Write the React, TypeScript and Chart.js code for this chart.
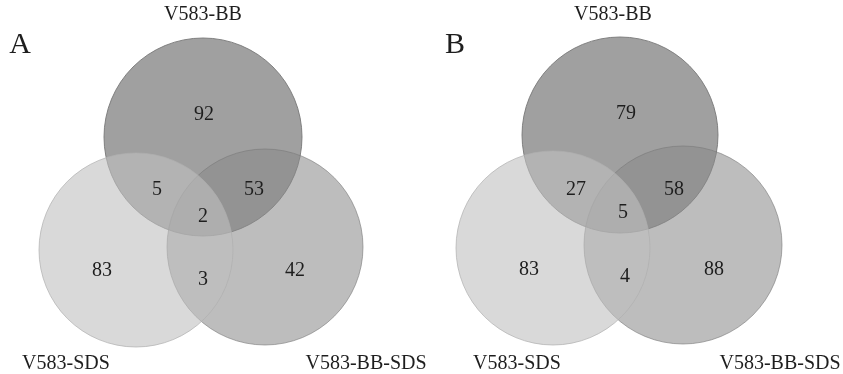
import React, { useEffect, useRef } from "react";
import { Chart, registerables } from "chart.js";

Chart.register(...registerables);

// ---- data ----
const panels = ["A", "B"];
const setNames = ["V583-BB", "V583-SDS", "V583-BB-SDS"];
// region order: BB only, SDS only, BB-SDS only, BB∩SDS, BB∩BB-SDS, SDS∩BB-SDS, all three
const countsA = [92, 83, 42, 5, 53, 3, 2];
const countsB = [79, 83, 88, 27, 58, 4, 5];

// ---- layout (pixel-like units of the hidden scales) ----
const circleLayout = [
  // per panel: [BB, SDS, BB-SDS] as {x, y, r}
  [
    { x: 203, y: 137, r: 99 },
    { x: 136, y: 250, r: 97 },
    { x: 265, y: 247, r: 98 },
  ],
  [
    { x: 620, y: 135, r: 98 },
    { x: 553, y: 248, r: 97 },
    { x: 683, y: 245, r: 99 },
  ],
];
const regionPos = [
  [
    [204, 115], [102, 271], [295, 271], [157, 190], [254, 190], [203, 280], [203, 217],
  ],
  [
    [626, 114], [529, 270], [714, 270], [576, 190], [674, 190], [625, 277], [623, 213],
  ],
];
const setLabelPos = [
  [[203, 15], [66, 364], [366, 364]],
  [[613, 15], [517, 364], [780, 364]],
];
const panelLetterPos = [[20, 45], [455, 45]];

const W = 843;
const H = 374;

export default function App() {
  const ref = useRef<HTMLCanvasElement | null>(null);

  useEffect(() => {
    document.body.style.margin = "0";
    const canvas = ref.current;
    if (!canvas) return;
    const counts = [countsA, countsB];

    const fills = [
      "rgba(160,160,160,1)",
      "rgba(191,191,191,0.6)",
      "rgba(137,137,137,0.56)",
    ];
    const borders = [
      "rgba(120,120,120,0.9)",
      "rgba(175,175,175,0.7)",
      "rgba(120,120,120,0.6)",
    ];
    const orders = [2, 0, 1]; // BB bottom, BB-SDS middle, SDS on top

    const datasets = setNames.map((name, si) => ({
      label: name,
      data: circleLayout.map((p) => ({ x: p[si].x, y: p[si].y, r: p[si].r })),
      backgroundColor: fills[si],
      borderColor: borders[si],
      borderWidth: 1,
      order: orders[si],
      clip: false as any,
    }));

    const textPlugin = {
      id: "vennText",
      afterDatasetsDraw(chart: any) {
        const ctx = chart.ctx;
        const xs = chart.scales.x;
        const ys = chart.scales.y;
        ctx.save();
        ctx.fillStyle = "#1e1e1e";
        ctx.textAlign = "center";
        ctx.textBaseline = "middle";
        panels.forEach((letter, pi) => {
          ctx.font = '20px "Liberation Serif", serif';
          counts[pi].forEach((c, ri) => {
            const [x, y] = regionPos[pi][ri];
            ctx.fillText(String(c), xs.getPixelForValue(x), ys.getPixelForValue(y));
          });
          setNames.forEach((n, si) => {
            const [x, y] = setLabelPos[pi][si];
            ctx.fillText(n, xs.getPixelForValue(x), ys.getPixelForValue(y));
          });
          ctx.font = '30px "Liberation Serif", serif';
          const [lx, ly] = panelLetterPos[pi];
          ctx.fillText(letter, xs.getPixelForValue(lx), ys.getPixelForValue(ly));
        });
        ctx.restore();
      },
    };

    const chart = new Chart(canvas, {
      type: "bubble",
      data: { datasets },
      options: {
        responsive: false,
        animation: false,
        events: [],
        layout: { padding: 0, autoPadding: false },
        plugins: {
          legend: { display: false },
          tooltip: { enabled: false },
          title: { display: false },
        },
        scales: {
          x: { type: "linear", min: 0, max: W, display: false },
          y: { type: "linear", min: 0, max: H, reverse: true, display: false },
        },
      },
      plugins: [textPlugin],
    });
    return () => chart.destroy();
  }, []);

  return (
    <div style={{ width: W, height: H, background: "#fff" }}>
      <canvas ref={ref} width={W} height={H} style={{ display: "block" }} />
    </div>
  );
}
